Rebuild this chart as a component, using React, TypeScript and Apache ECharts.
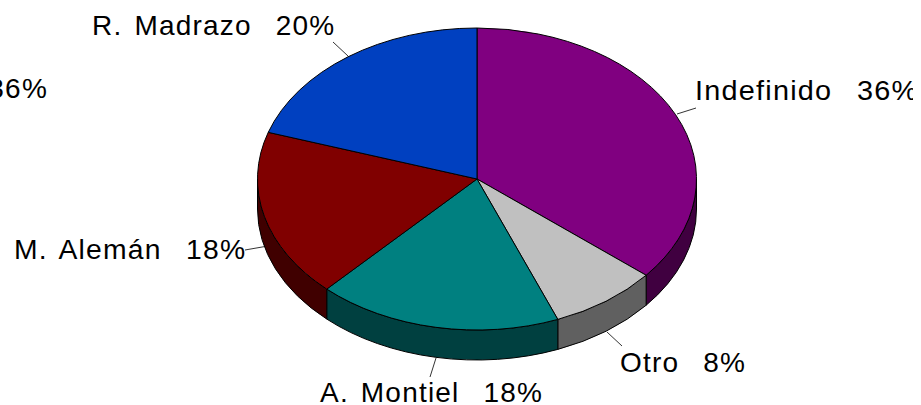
import React, { useEffect, useRef } from "react";
import * as echarts from "echarts";

const categories = ["Indefinido", "Otro", "A. Montiel", "M. Alemán", "R. Madrazo"];
const percents = [36, 8, 18, 18, 20];
const topColors = ["#800080", "#C0C0C0", "#008080", "#800000", "#0040C0"];
const sideColors = ["#400040", "#606060", "#004040", "#400000", "#002060"];

const CX = 477;
const CY = 179;
const RX = 219.5;
const RY = 151;
const DEPTH = 30;
const FONT = "'Liberation Sans', Arial, sans-serif";
const FONT_SIZE = 28;
const GAP = "\u00a0\u00a0";

// x of the label's left edge, y of its vertical middle, horizontal stretch, then the leader line
const labelLayout = [
  { x: 695, y: 90, sx: 1.03, line: [696, 108, 677, 114] },
  { x: 620, y: 362, sx: 1, line: [622, 346, 607, 332] },
  { x: 320, y: 392, sx: 1, line: [430, 377, 436, 358] },
  { x: 14, y: 250, sx: 1.012, line: [245, 250, 265, 246.5] },
  { x: 92, y: 25, sx: 1, line: [333, 42, 348, 56] },
];

const pt = (deg: number, dy = 0) => {
  const a = (deg * Math.PI) / 180;
  return [CX + RX * Math.sin(a), CY - RY * Math.cos(a) + dy];
};

const total = percents.reduce((s, v) => s + v, 0);

function renderItem(params: any, api: any) {
  const i = params.dataIndex;
  const value = api.value(0);
  let before = 0;
  for (let k = 0; k < i; k++) before += percents[k];
  const a0 = (before / total) * 360;
  const a1 = ((before + value) / total) * 360;
  const children: any[] = [];
  const s0 = Math.max(a0, 90);
  const s1 = Math.min(a1, 270);
  const lineStyle = { stroke: "#000", lineWidth: 1 };
  if (s1 > s0) {
    const [ax, ay] = pt(s0);
    const [bx, by] = pt(s1);
    const large = s1 - s0 > 180 ? 1 : 0;
    children.push({
      type: "path",
      shape: {
        pathData: `M${ax} ${ay}A${RX} ${RY} 0 ${large} 1 ${bx} ${by}L${bx} ${by + DEPTH}A${RX} ${RY} 0 ${large} 0 ${ax} ${ay + DEPTH}Z`,
      },
      style: { fill: sideColors[i], ...lineStyle },
    });
  }
  const [px, py] = pt(a0);
  const [qx, qy] = pt(a1);
  const large = a1 - a0 > 180 ? 1 : 0;
  children.push({
    type: "path",
    shape: {
      pathData: `M${CX} ${CY}L${px} ${py}A${RX} ${RY} 0 ${large} 1 ${qx} ${qy}Z`,
    },
    style: { fill: topColors[i], ...lineStyle },
  });
  const lay = labelLayout[i];
  children.push({
    type: "line",
    shape: { x1: lay.line[0], y1: lay.line[1], x2: lay.line[2], y2: lay.line[3] },
    style: { stroke: "#000", lineWidth: 0.8 },
  });
  children.push({
    type: "text",
    x: lay.x,
    y: lay.y,
    scaleX: lay.sx,
    style: {
      text: `${categories[i]}${GAP}${value}%`,
      font: `${FONT_SIZE}px ${FONT}`,
      fill: "#000",
      align: "left",
      verticalAlign: "middle",
    },
  });
  return { type: "group", children };
}

export default function App() {
  const ref = useRef<HTMLDivElement>(null);
  useEffect(() => {
    const chart = echarts.init(ref.current!, null, { renderer: "svg" });
    chart.setOption({
      animation: false,
      backgroundColor: "#fff",
      graphic: [
        {
          type: "text",
          x: 48,
          y: 88,
          style: {
            text: `${percents[0]}%`,
            font: `${FONT_SIZE}px ${FONT}`,
            fill: "#000",
            align: "right",
            verticalAlign: "middle",
          },
        },
      ],
      series: [
        {
          type: "custom",
          coordinateSystem: "none",
          renderItem,
          data: percents.map((v, i) => ({ name: categories[i], value: [v] })),
        },
      ],
    });
    return () => chart.dispose();
  }, []);
  return (
    <div style={{ position: "absolute", left: 0, top: 0, width: 921, height: 405, background: "#fff" }}>
      <style>{`svg text { letter-spacing: 1.2px; word-spacing: 3px; }`}</style>
      <div ref={ref} style={{ width: 913, height: 405, overflow: "hidden" }} />
    </div>
  );
}
